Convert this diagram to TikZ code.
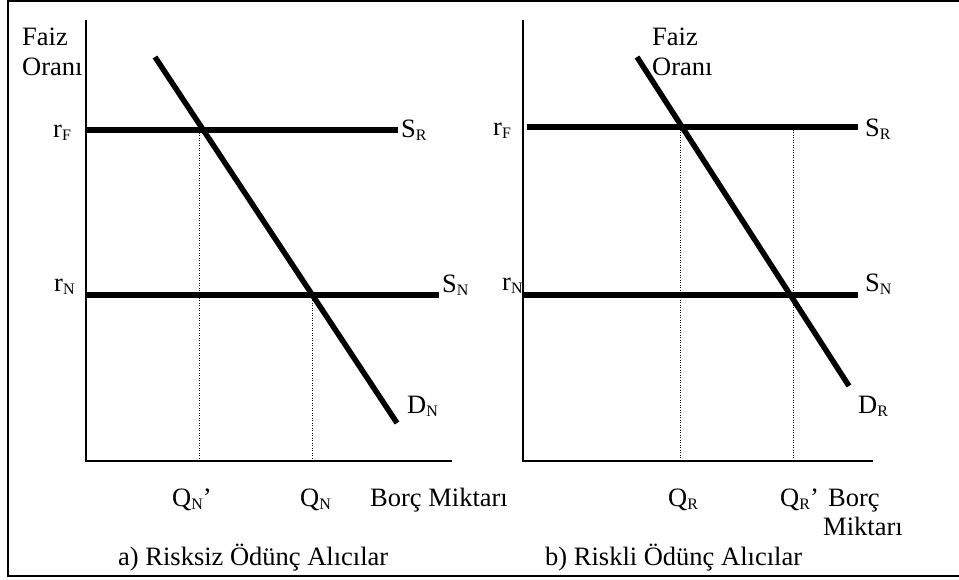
\documentclass[tikz,border=0pt]{standalone}
\usepackage{fontspec}
\setmainfont{Liberation Serif}
\newcommand\subsc[1]{\raisebox{-3.5pt}{\fontsize{16}{16}\selectfont #1}}
\begin{document}
\begin{tikzpicture}[x=1pt,y=-1pt,
  curve/.style={line width=5.5pt},
  axisline/.style={line width=2pt},
  guide/.style={line width=0.9pt, dash pattern=on 1pt off 1.5pt},
  frameline/.style={line width=2pt},
  lbl/.style={inner sep=0pt, anchor=base west, font=\fontsize{26.5}{30}\selectfont},
]
\useasboundingbox (0,0) rectangle (959,579);

% open frame (top, left, bottom)
\draw[frameline] (959,1) -- (8,1) -- (8,576) -- (959,576);

% ---------- panel a ----------
\coordinate (aTop) at (86,20);
\coordinate (aO) at (86,461);
\coordinate (aEnd) at (452,461);
\draw[axisline] (aTop) -- (aO) -- (aEnd);

\coordinate (aF0) at (86,130);  \coordinate (aF1) at (398,130);
\coordinate (aN0) at (86,295);  \coordinate (aN1) at (439,295);
\coordinate (aD0) at (155,57);  \coordinate (aD1) at (397,423);

\draw[guide] (199,130) -- (199,461);
\draw[guide] (312,295) -- (312,461);

\draw[curve] (aF0) -- (aF1);
\draw[curve] (aN0) -- (aN1);
\draw[curve] (aD0) -- (aD1);

\node[lbl] (aFaiz) at (22,45) {Faiz};
\node[lbl] (aOran) at (22,75) {Oranı};
\node[lbl] (arF) at (53,137) {r\subsc{F}};
\node[lbl] (arN) at (54,291) {r\subsc{N}};
\node[lbl] (aSR) at (401,137) {S\subsc{R}};
\node[lbl] (aSN) at (442,292) {S\subsc{N}};
\node[lbl] (aDN) at (407,413) {D\subsc{N}};
\node[lbl] (aQ1) at (172,506) {Q\subsc{N}’};
\node[lbl] (aQ2) at (300,506) {Q\subsc{N}};
\node[lbl] (aBM) at (370,506) {Borç Miktarı};
\node[lbl] (aCap) at (118,565) {a) Risksiz Ödünç Alıcılar};

% ---------- panel b ----------
\coordinate (bTop) at (523,20);
\coordinate (bO) at (523,461);
\coordinate (bEnd) at (873,461);
\draw[axisline] (bTop) -- (bO) -- (bEnd);

\coordinate (bF0) at (527,127); \coordinate (bF1) at (858,127);
\coordinate (bN0) at (523,295); \coordinate (bN1) at (858,295);
\coordinate (bD0) at (637,57);  \coordinate (bD1) at (849,386);

\draw[guide] (680,127) -- (680,461);
\draw[guide] (793,127) -- (793,461);

\draw[curve] (bF0) -- (bF1);
\draw[curve] (bN0) -- (bN1);
\draw[curve] (bD0) -- (bD1);

\node[lbl] (bFaiz) at (652,45) {Faiz};
\node[lbl] (bOran) at (652,75) {Oranı};
\node[lbl] (brF) at (493,135) {r\subsc{F}};
\node[lbl] (brN) at (502,290) {r\subsc{N}};
\node[lbl] (bSR) at (865,136) {S\subsc{R}};
\node[lbl] (bSN) at (865,291) {S\subsc{N}};
\node[lbl] (bDR) at (858,413) {D\subsc{R}};
\node[lbl] (bQ1) at (668,506) {Q\subsc{R}};
\node[lbl] (bQ2) at (780,506) {Q\subsc{R}’};
\node[lbl] (bB1) at (828,506) {Borç};
\node[lbl] (bB2) at (823,535) {Miktarı};
\node[lbl] (bCap) at (545,565) {b) Riskli Ödünç Alıcılar};
\end{tikzpicture}
\end{document}
